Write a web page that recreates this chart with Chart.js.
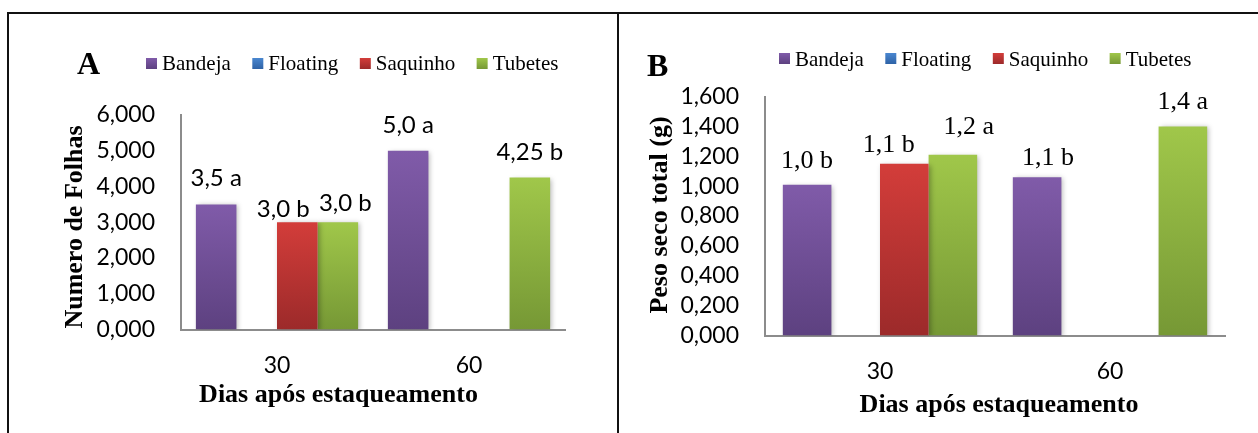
<!DOCTYPE html>
<html><head><meta charset="utf-8">
<script src="https://cdn.jsdelivr.net/npm/chart.js@4.4.1/dist/chart.umd.min.js"></script>
<style>
html,body{margin:0;padding:0;background:#fff;width:1258px;height:433px;overflow:hidden;}
#wrap{position:relative;width:1258px;height:433px;}
canvas{position:absolute;top:0;}
#cA{left:0;} #cB{left:619px;}
.ln{position:absolute;background:#111;}
</style></head><body>
<div id="wrap">
<canvas id="cA" width="617" height="433"></canvas>
<canvas id="cB" width="639" height="433"></canvas>
<div class="ln" style="left:7px;top:12px;width:1251px;height:2px"></div>
<div class="ln" style="left:7px;top:12px;width:2px;height:421px"></div>
<div class="ln" style="left:617px;top:12px;width:2px;height:421px"></div>
</div>
<script>
// ---------- data ----------
const categories = ['30', '60'];
const seriesNames = ['Bandeja', 'Floating', 'Saquinho', 'Tubetes'];

// Panel A: Numero de Folhas
const folhasBandeja  = [3.5, 5.0];
const folhasFloating = [null, null];
const folhasSaquinho = [3.0, null];
const folhasTubetes  = [3.0, 4.25];
const folhasLabelsBandeja  = ['3,5 a', '5,0 a'];
const folhasLabelsFloating = [null, null];
const folhasLabelsSaquinho = ['3,0 b', null];
const folhasLabelsTubetes  = ['3,0 b', '4,25 b'];
const folhasAxisMax = 6;
const folhasAxisStep = 1;

// Panel B: Peso seco total (g)
const pesoBandeja  = [1.01, 1.06];
const pesoFloating = [null, null];
const pesoSaquinho = [1.15, null];
const pesoTubetes  = [1.21, 1.40];
const pesoLabelsBandeja  = ['1,0 b', '1,1 b'];
const pesoLabelsFloating = [null, null];
const pesoLabelsSaquinho = ['1,1 b', null];
const pesoLabelsTubetes  = ['1,2 a', '1,4 a'];
const pesoAxisMax = 1.6;
const pesoAxisStep = 0.2;

const titleA = 'Numero de Folhas';
const titleB = 'Peso seco total (g)';
const titleX = 'Dias após estaqueamento';

// ---------- styles ----------
const seriesColors = {
  Bandeja:  ['#805ba9', '#5d4180'],
  Floating: ['#4a87d0', '#2e62a6'],
  Saquinho: ['#d33d3a', '#9c2a2a'],
  Tubetes:  ['#a0c74a', '#769835']
};
// label nudges [dx, dy] per series per category (style only)
const nudgeA = { Saquinho: [[-14, 13], null], Tubetes: [[7.5, 7], null] };
const nudgeB = { Saquinho: [[-15.5, 5], null], Tubetes: [[16, -4], null], Bandeja: [null, [11, 5]] };

function barFill(name) {
  const [top, bottom] = seriesColors[name];
  return (c) => {
    const chart = c.chart;
    if (c.type !== 'data' || !chart.chartArea || c.raw == null) return top;
    const ys = chart.scales.y;
    const y = ys.getPixelForValue(c.raw), b = ys.getPixelForValue(0);
    if (!isFinite(y) || !isFinite(b) || Math.abs(b - y) < 1) return top;
    const g = chart.ctx.createLinearGradient(0, y, 0, b);
    g.addColorStop(0, top); g.addColorStop(1, bottom);
    return g;
  };
}

function makeDatasets(values, labels) {
  return seriesNames.map((n, i) => ({
    label: n,
    data: values[i],
    valueLabels: labels[i],
    backgroundColor: barFill(n),
    borderWidth: 0
  }));
}

const decor = {
  id: 'decor',
  beforeDatasetsDraw(chart) {
    const c = chart.ctx; c.save();
    c.shadowColor = 'rgba(0,0,0,0.28)'; c.shadowBlur = 5; c.shadowOffsetX = 2; c.shadowOffsetY = 1;
  },
  afterDatasetsDraw(chart) { chart.ctx.restore(); },
  afterDraw(chart, args, o) {
    const ctx = chart.ctx;
    ctx.save();
    ctx.fillStyle = '#000';
    ctx.textBaseline = 'alphabetic';
    // panel letter
    ctx.textAlign = 'left';
    ctx.font = 'bold 32px "Liberation Serif"';
    ctx.fillText(o.letter, o.letterX, o.letterY);
    // legend
    ctx.font = '21px "Liberation Serif"';
    let x = o.legendX;
    chart.data.datasets.forEach(ds => {
      const [t, b] = seriesColors[ds.label];
      const g = ctx.createLinearGradient(0, o.legendBoxTop, 0, o.legendBoxTop + 11);
      g.addColorStop(0, t); g.addColorStop(1, b);
      ctx.fillStyle = g;
      ctx.fillRect(x, o.legendBoxTop, 11, 11);
      ctx.fillStyle = '#000';
      ctx.fillText(ds.label, x + 16, o.legendBaseline);
      x += 16 + ctx.measureText(ds.label).width + 21.5;
    });
    // value labels
    ctx.font = o.valueFont;
    ctx.textAlign = 'center';
    chart.data.datasets.forEach((ds, di) => {
      const meta = chart.getDatasetMeta(di);
      const nud = o.nudge[ds.label] || [];
      meta.data.forEach((el, i) => {
        const txt = ds.valueLabels[i];
        if (!txt || ds.data[i] == null) return;
        const n = nud[i] || [0, 0];
        ctx.fillText(txt, el.x + n[0], el.y - o.valueGap + n[1]);
      });
    });
    // axis titles
    ctx.font = 'bold 26px "Liberation Serif"';
    ctx.fillText(o.xTitle, o.xTitleX, o.xTitleY);
    ctx.translate(o.yTitleX, o.yTitleY);
    ctx.rotate(-Math.PI / 2);
    ctx.fillText(o.yTitle, 0, 0);
    ctx.restore();
  }
};

const fmt = v => Number(v).toFixed(3).replace('.', ',');

function makeChart(id, datasets, cfg) {
  return new Chart(document.getElementById(id), {
    type: 'bar',
    data: { labels: categories, datasets },
    plugins: [decor],
    options: {
      responsive: false, animation: false, devicePixelRatio: 1,
      layout: { padding: { left: 0, right: cfg.padRight, top: cfg.padTop, bottom: 0 } },
      datasets: { bar: { categoryPercentage: 0.845, barPercentage: 1 } },
      plugins: { legend: { display: false }, tooltip: { enabled: false }, decor: cfg.decor },
      scales: {
        x: {
          grid: { display: false, drawTicks: false },
          border: { display: true, color: '#8c8c8c', width: 2 },
          ticks: { font: { family: 'Lato', size: 23 }, color: '#000', padding: 22, autoSkip: false, maxRotation: 0 },
          afterFit: s => { s.height = cfg.xHeight; }
        },
        y: {
          min: 0, max: cfg.max,
          grid: { display: false, drawTicks: false },
          border: { display: true, color: '#8c8c8c', width: 2 },
          ticks: { stepSize: cfg.step, autoSkip: false, font: { family: 'Lato', size: 23 }, color: '#000', padding: 26, callback: fmt },
          afterFit: s => { s.width = cfg.yWidth; }
        }
      }
    }
  });
}

function build() {
  makeChart('cA',
    makeDatasets([folhasBandeja, folhasFloating, folhasSaquinho, folhasTubetes],
                 [folhasLabelsBandeja, folhasLabelsFloating, folhasLabelsSaquinho, folhasLabelsTubetes]),
    { max: folhasAxisMax, step: folhasAxisStep, padRight: 52, padTop: 115, xHeight: 103.5, yWidth: 181,
      decor: { letter: 'A', letterX: 77, letterY: 74, legendX: 146, legendBoxTop: 58, legendBaseline: 70,
               valueFont: '24px Lato', valueGap: 18, nudge: nudgeA,
               xTitle: titleX, xTitleX: 338.5, xTitleY: 402,
               yTitle: titleA, yTitleX: 82, yTitleY: 227 } });
  makeChart('cB',
    makeDatasets([pesoBandeja, pesoFloating, pesoSaquinho, pesoTubetes],
                 [pesoLabelsBandeja, pesoLabelsFloating, pesoLabelsSaquinho, pesoLabelsTubetes]),
    { max: pesoAxisMax, step: pesoAxisStep, padRight: 33, padTop: 96.5, xHeight: 97.5, yWidth: 146,
      decor: { letter: 'B', letterX: 28, letterY: 76, legendX: 160, legendBoxTop: 53, legendBaseline: 65.5,
               valueFont: '26px "Liberation Serif"', valueGap: 17, nudge: nudgeB,
               xTitle: titleX, xTitleX: 380, xTitleY: 412,
               yTitle: titleB, yTitleX: 48, yTitleY: 215 } });
}

const fontsReady = document.fonts && document.fonts.load
  ? Promise.all(['23px Lato', '24px Lato', '21px "Liberation Serif"', 'bold 26px "Liberation Serif"', 'bold 32px "Liberation Serif"']
      .map(f => document.fonts.load(f).catch(() => null)))
  : Promise.resolve();
let built = false;
const go = () => { if (!built) { built = true; build(); } };
fontsReady.then(go, go);
setTimeout(go, 1500);
</script>
</body></html>
